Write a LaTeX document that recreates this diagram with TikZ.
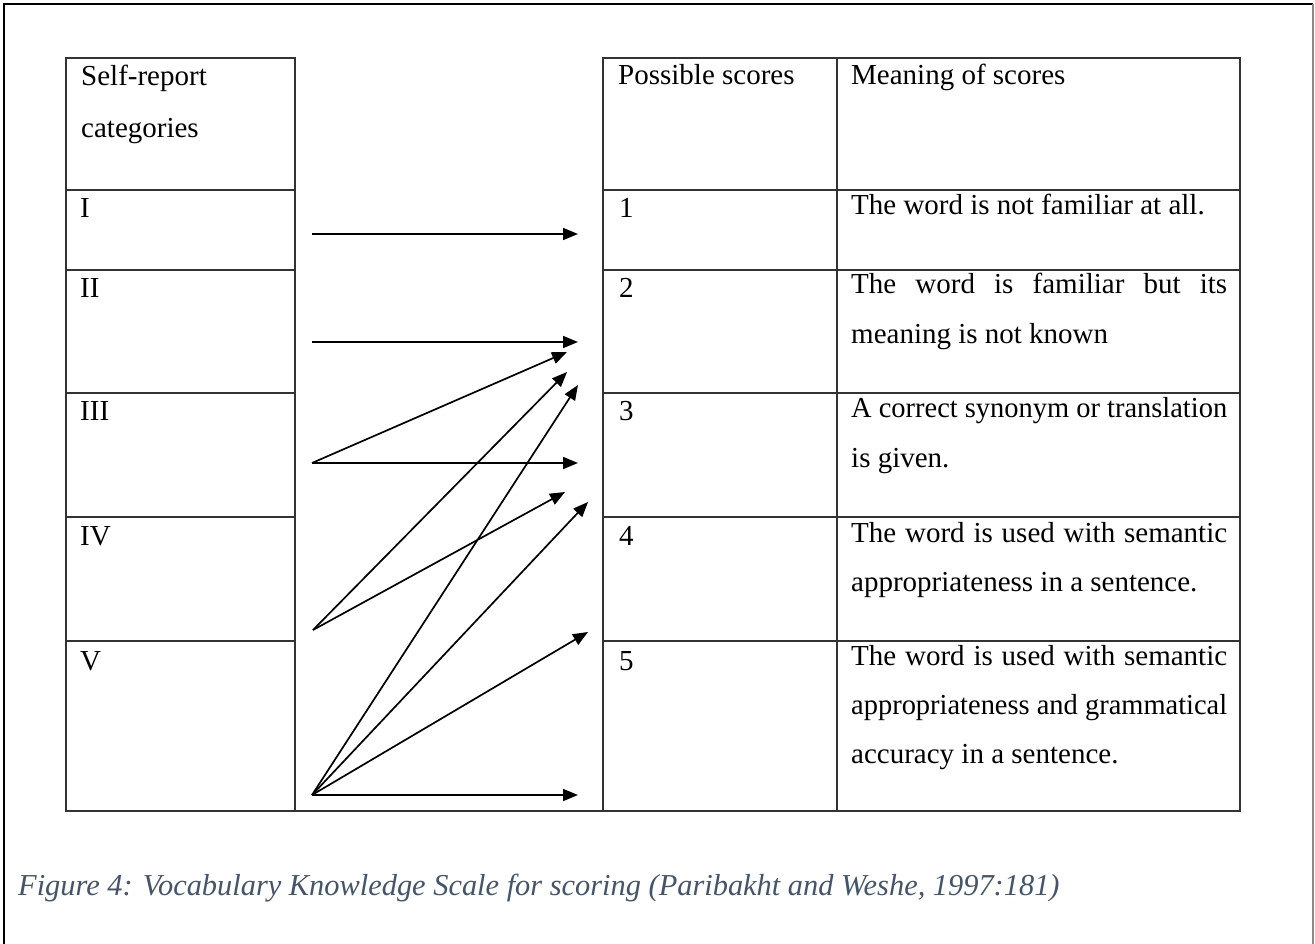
\documentclass[tikz,border=0pt]{standalone}
\usepackage{fontspec}
\usepackage{graphicx}
\setmainfont{Liberation Serif}
\usetikzlibrary{arrows.meta}
\definecolor{capcol}{HTML}{44546A}
\definecolor{gridcol}{HTML}{333333}
\definecolor{framecol}{HTML}{8A8A8A}
\newcommand\jline[1]{\sbox0{#1}\ifdim\wd0>376pt \resizebox{376pt}{\ht0}{#1}\else\hbox to 376pt{\spaceskip=0.25em plus 1fil\relax #1}\fi}
\tikzset{
  tbl/.style={draw=gridcol, line width=1.6pt},
  txt/.style={anchor=base west, inner sep=0pt, font=\fontsize{29}{35}\selectfont},
  arr/.style={-{Triangle[length=15pt,width=12pt]}, line width=1.7pt},
  captext/.style={anchor=base west, inner sep=0pt, font=\fontsize{30.4}{36}\selectfont\itshape, text=capcol}
}
\begin{document}
\begin{tikzpicture}[x=1pt,y=-1pt]
\useasboundingbox (0,0) rectangle (1315,944);
% outer frame
\draw[line width=2.6pt, black] (4,944) -- (4,4) -- (1313,4);
\draw[line width=1.2pt, framecol] (1313,4) -- (1313,944);
% left table
\draw[tbl] (66,58) rectangle (295,811);
\foreach \y in {190,270,393,517,641} \draw[tbl] (66,\y) -- (295,\y);
% right table
\draw[tbl] (603,58) rectangle (1240,811);
\draw[tbl] (837,58) -- (837,811);
\foreach \y in {190,270,393,517,641} \draw[tbl] (603,\y) -- (1240,\y);
% bottom of middle column
\draw[tbl] (295,811) -- (603,811);
% left texts
\node[txt] (h1a) at (81,86) {Self-report};
\node[txt] (h1b) at (81,138) {categories};
\node[txt] (c1) at (80,218) {I};
\node[txt] (c2) at (80,298) {II};
\node[txt] (c3) at (80,420) {III};
\node[txt] (c4) at (80,545) {IV};
\node[txt] (c5) at (80,670) {V};
% score texts
\node[txt] (h2) at (618,85) {Possible scores};
\node[txt] (s1) at (619,218) {1};
\node[txt] (s2) at (619,298) {2};
\node[txt] (s3) at (619,420) {3};
\node[txt] (s4) at (619,545) {4};
\node[txt] (s5) at (619,670) {5};
% meaning texts
\node[txt] (h3) at (851,85) {Meaning of scores};
\node[txt] (m1) at (851,215) {The word is not familiar at all.};
\node[txt] (m2a) at (851,293) {\jline{The word is familiar but its}};
\node[txt] (m2b) at (851,343) {meaning is not known};
\node[txt] (m3a) at (851,417) {\jline{A correct synonym or translation}};
\node[txt] (m3b) at (851,467) {is given.};
\node[txt] (m4a) at (851,542) {\jline{The word is used with semantic}};
\node[txt] (m4b) at (851,591) {appropriateness in a sentence.};
\node[txt] (m5a) at (851,665) {\jline{The word is used with semantic}};
\node[txt] (m5b) at (851,714) {\jline{appropriateness and grammatical}};
\node[txt] (m5c) at (851,763) {accuracy in a sentence.};
% arrow coordinates
\coordinate (a1) at (312,234);
\coordinate (b1) at (578,234);
\coordinate (a2) at (312,342);
\coordinate (b2) at (578,342);
\coordinate (a3) at (312,463);
\coordinate (b3) at (578,463);
\coordinate (b3u) at (567,352);
\coordinate (a4) at (313,630);
\coordinate (b4u) at (567,372);
\coordinate (b4m) at (565,492);
\coordinate (a5) at (312,795);
\coordinate (b5a) at (578,385);
\coordinate (b5b) at (588,502);
\coordinate (b5c) at (588,632);
\coordinate (b5d) at (578,795);
\draw[arr] (a1) -- (b1);
\draw[arr] (a2) -- (b2);
\draw[arr] (a3) -- (b3);
\draw[arr] (a3) -- (b3u);
\draw[arr] (a4) -- (b4u);
\draw[arr] (a4) -- (b4m);
\draw[arr] (a5) -- (b5a);
\draw[arr] (a5) -- (b5b);
\draw[arr] (a5) -- (b5c);
\draw[arr] (a5) -- (b5d);
% caption
\node[captext] (capt) at (18,895) {Figure 4: Vocabulary Knowledge Scale for scoring (Paribakht and Weshe, 1997:181)};
\end{tikzpicture}
\end{document}
